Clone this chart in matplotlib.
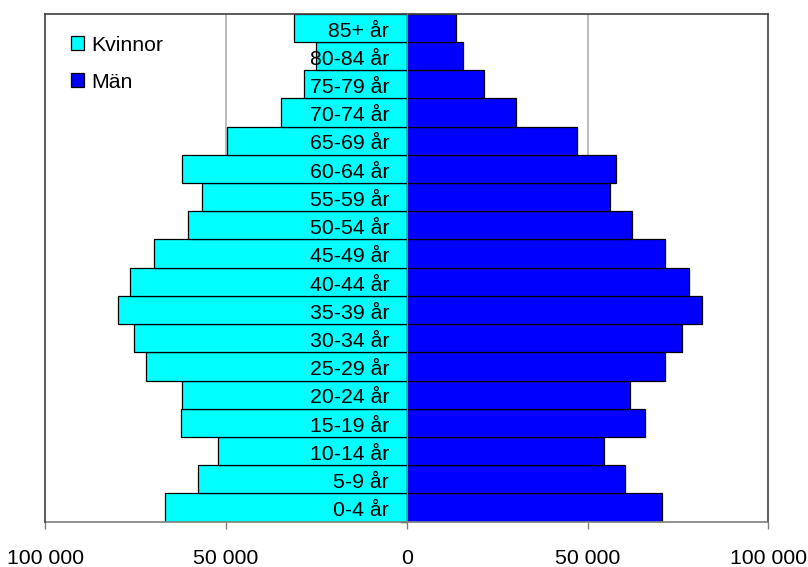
import matplotlib.pyplot as plt
from matplotlib.patches import Patch
from matplotlib.ticker import FuncFormatter, FixedLocator

plt.rcParams["font.family"] = ["Liberation Sans", "DejaVu Sans"]

# Age groups from youngest (bottom) to oldest (top)
age_groups = ["0-4 år", "5-9 år", "10-14 år", "15-19 år", "20-24 år", "25-29 år",
              "30-34 år", "35-39 år", "40-44 år", "45-49 år", "50-54 år", "55-59 år",
              "60-64 år", "65-69 år", "70-74 år", "75-79 år", "80-84 år", "85+ år"]

kvinnor = [66700, 57700, 52300, 62500, 62100, 72200,
           75500, 79700, 76500, 69900, 60600, 56700,
           62100, 49800, 34800, 28300, 25100, 31300]

man = [70600, 60400, 54600, 65900, 61800, 71500,
       76200, 81500, 78000, 71500, 62200, 56100,
       57800, 47200, 30200, 21300, 15500, 13700]

x_ticks = [-100000, -50000, 0, 50000, 100000]

FS = 15.3

fig = plt.figure(figsize=(8.08, 5.67), dpi=100)
ax = fig.add_axes([0.0557, 0.0799, 0.8954, 0.8959])

pos = range(len(age_groups))
ax.barh(pos, [-v for v in kvinnor], height=1.0, color="#00FFFF",
        edgecolor="black", linewidth=0.9, zorder=2)
ax.barh(pos, man, height=1.0, color="#0000FF",
        edgecolor="black", linewidth=0.9, zorder=2)

for i, label in enumerate(age_groups):
    ax.annotate(label, xy=(0, i), xytext=(-12.6, -2.3), textcoords="offset points",
                ha="right", va="center", fontsize=FS, zorder=3)

ax.set_xlim(-100000, 100000)
ax.set_ylim(-0.5, len(age_groups) - 0.5)

# vertical gridlines at +-50 000
for x in (-50000, 50000):
    ax.axvline(x, color="#b0b0b0", linewidth=1.2, zorder=1)

# y axis sits at zero, with ticks between age groups
ax.spines["left"].set_position(("data", 0))
ax.spines["left"].set_color("#808080")
ax.spines["left"].set_zorder(4)
ax.yaxis.set_major_locator(FixedLocator([i - 0.5 for i in range(len(age_groups) + 1)]))
ax.tick_params(axis="y", direction="out", length=5, width=1, color="#404040",
               labelleft=False)

# outer frame
ax.axvline(-100000, color="#404040", linewidth=1.2, clip_on=False, zorder=4)
for side in ("top", "right", "bottom"):
    ax.spines[side].set_color("#404040")
    ax.spines[side].set_linewidth(1.2)
ax.spines["bottom"].set_color("#808080")

ax.xaxis.set_major_locator(FixedLocator(x_ticks))
ax.xaxis.set_major_formatter(FuncFormatter(lambda v, p: f"{abs(int(v)):,}".replace(",", " ")))
ax.tick_params(axis="x", direction="out", length=5, width=1, color="#808080",
               labelsize=FS, pad=14.5)

handles = [Patch(facecolor="#00FFFF", edgecolor="black", linewidth=0.9, label="Kvinnor"),
           Patch(facecolor="#0000FF", edgecolor="black", linewidth=0.9, label="Män")]
ax.legend(handles=handles, loc="upper left", bbox_to_anchor=(0.03, 0.965),
          frameon=False, fontsize=FS, handlelength=0.62, handleheight=0.62,
          handletextpad=0.33, labelspacing=0.85, borderpad=0.2, borderaxespad=0)

fig.savefig("out.png", dpi=100)
